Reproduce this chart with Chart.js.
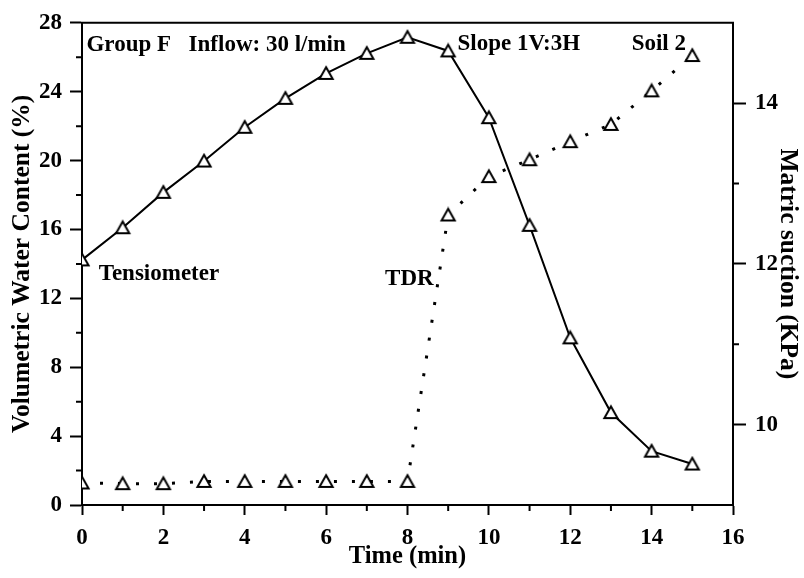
<!DOCTYPE html>
<html>
<head>
<meta charset="utf-8">
<script src="https://cdn.jsdelivr.net/npm/chart.js@4.4.1/dist/chart.umd.min.js"></script>
<style>
  html, body { margin: 0; padding: 0; background: #fff; }
  #wrap { width: 804px; height: 578px; }
</style>
</head>
<body>
<div id="wrap"><canvas id="chart" width="804" height="578"></canvas></div>
<script>
// Time (min)
const times = [0, 1, 2, 3, 4, 5, 6, 7, 8, 9, 10, 11, 12, 13, 14, 15];

// Matric suction (KPa), right axis
const tensiometer = [12.05, 12.45, 12.89, 13.28, 13.70, 14.06, 14.37, 14.62, 14.82, 14.65, 13.82, 12.48, 11.08, 10.15, 9.67, 9.51];

// Volumetric water content (%), left axis
const tdr = [1.28, 1.24, 1.24, 1.37, 1.37, 1.37, 1.37, 1.37, 1.37, 16.84, 19.07, 20.05, 21.1, 22.1, 24.05, 26.1];

// Tick labels
const xTicks = [0, 2, 4, 6, 8, 10, 12, 14, 16];
const leftTicks = [0, 4, 8, 12, 16, 20, 24, 28];
const rightTicks = [10, 12, 14];

// Text notes, placed in (time, water content) units
const notes = [
  { text: 'Group F', x: 0.11, y: 26.35 },
  { text: 'Inflow: 30 l/min', x: 2.62, y: 26.35 },
  { text: 'Slope 1V:3H', x: 9.23, y: 26.4 },
  { text: 'Soil 2', x: 13.51, y: 26.4 },
  { text: 'Tensiometer', x: 0.41, y: 13.05 },
  { text: 'TDR', x: 7.45, y: 12.75 },
];

const FONT = '"Liberation Serif", "Times New Roman", serif';
Chart.defaults.font.family = FONT;
Chart.defaults.color = '#000';

// open triangle, centred on its bounding box like the original
function triangleMarker() {
  const c = document.createElement('canvas');
  c.width = 18;
  c.height = 17;
  const g = c.getContext('2d');
  g.beginPath();
  g.moveTo(9, 2.3);
  g.lineTo(15.6, 14.1);
  g.lineTo(2.4, 14.1);
  g.closePath();
  g.fillStyle = '#fff';
  g.fill();
  g.lineWidth = 2;
  g.strokeStyle = '#000';
  g.stroke();
  return c;
}
const marker = triangleMarker();

const setTicks = (values) => (scale) => {
  scale.ticks = values.map((v) => ({ value: v }));
};

// minor ticks, top frame line and text notes
const extras = {
  id: 'extras',
  afterDraw(chart) {
    const { ctx, chartArea: a, scales } = chart;
    const { x, y, y1 } = scales;
    ctx.save();
    ctx.strokeStyle = '#000';
    ctx.lineWidth = 2;
    ctx.beginPath();
    for (let v = 1; v < 16; v += 2) {
      const px = x.getPixelForValue(v);
      ctx.moveTo(px, a.bottom);
      ctx.lineTo(px, a.bottom + 6);
    }
    for (let v = 2; v < 28; v += 4) {
      const py = y.getPixelForValue(v);
      ctx.moveTo(a.left, py);
      ctx.lineTo(a.left - 6, py);
    }
    for (let v = 11; v < 15; v += 2) {
      const py = y1.getPixelForValue(v);
      ctx.moveTo(a.right, py);
      ctx.lineTo(a.right + 6, py);
    }
    ctx.moveTo(a.left - 1, a.top);
    ctx.lineTo(a.right + 1, a.top);
    ctx.stroke();

    ctx.fillStyle = '#000';
    ctx.font = 'bold 23px ' + FONT;
    ctx.textAlign = 'left';
    ctx.textBaseline = 'alphabetic';
    notes.forEach((n) => {
      ctx.fillText(n.text, x.getPixelForValue(n.x), y.getPixelForValue(n.y));
    });
    ctx.restore();
  },
};

new Chart(document.getElementById('chart'), {
  type: 'line',
  data: {
    labels: times,
    datasets: [
      {
        label: 'Tensiometer',
        data: times.map((t, i) => ({ x: t, y: tensiometer[i] })),
        yAxisID: 'y1',
        borderColor: '#000',
        borderWidth: 2,
        pointStyle: marker,
        tension: 0,
      },
      {
        label: 'TDR',
        data: times.map((t, i) => ({ x: t, y: tdr[i] })),
        yAxisID: 'y',
        borderColor: '#000',
        borderWidth: 3,
        borderDash: [3, 15],
        pointStyle: marker,
        tension: 0,
      },
    ],
  },
  options: {
    responsive: false,
    animation: false,
    layout: { padding: { top: 16, left: 0, right: 0, bottom: 0 } },
    plugins: {
      legend: { display: false },
      tooltip: { enabled: false },
    },
    scales: {
      x: {
        type: 'linear',
        min: 0,
        max: 16,
        afterBuildTicks: setTicks(xTicks),
        afterFit: (s) => { s.height = 73; },
        border: { color: '#000', width: 2 },
        grid: { drawOnChartArea: false, tickLength: 10, tickWidth: 2, tickColor: '#000' },
        ticks: { font: { size: 23, weight: 'bold' }, padding: 9, maxRotation: 0 },
        title: {
          display: true,
          text: 'Time (min)',
          font: { size: 24.5, weight: 'bold' },
          padding: { top: 0, bottom: 6.5 },
        },
      },
      y: {
        position: 'left',
        min: 0,
        max: 28,
        afterBuildTicks: setTicks(leftTicks),
        afterFit: (s) => { s.width = 82; },
        border: { color: '#000', width: 2 },
        grid: { drawOnChartArea: false, tickLength: 12, tickWidth: 2, tickColor: '#000' },
        ticks: { font: { size: 23, weight: 'bold' }, padding: 8 },
        title: {
          display: true,
          text: 'Volumetric Water Content (%)',
          font: { size: 25.5, weight: 'bold' },
          padding: { top: 7, bottom: 0 },
        },
      },
      y1: {
        position: 'right',
        min: 9,
        max: 15,
        afterBuildTicks: setTicks(rightTicks),
        afterFit: (s) => { s.width = 71; },
        border: { color: '#000', width: 2 },
        grid: { drawOnChartArea: false, tickLength: 13, tickWidth: 2, tickColor: '#000' },
        ticks: { font: { size: 23, weight: 'bold' }, padding: 9 },
        title: {
          display: true,
          text: 'Matric suction (KPa)',
          font: { size: 25.5, weight: 'bold' },
          padding: { top: 1, bottom: 0 },
        },
      },
    },
  },
  plugins: [extras],
});
</script>
</body>
</html>
